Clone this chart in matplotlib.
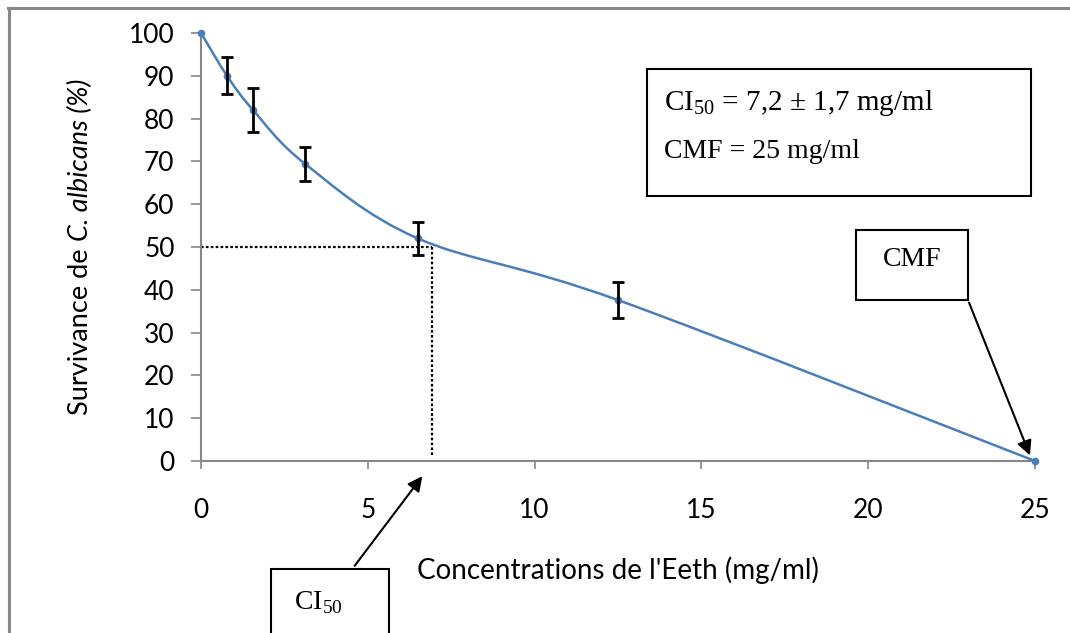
import numpy as np
import matplotlib
matplotlib.use("Agg")
import matplotlib.pyplot as plt
from matplotlib.path import Path
from matplotlib.patches import PathPatch, Rectangle, FancyArrowPatch
from matplotlib.lines import Line2D

# donnees
conc = [0, 0.78, 1.56, 3.125, 6.5, 12.5, 25]
surv = [100, 90, 82, 69.4, 52.0, 37.6, 0]
err = [0, 4.3, 5.2, 4.0, 3.8, 4.25, 0]
ci50_x = 6.93
ci50_y = 50

plt.rcParams['font.family'] = ['Lato', 'DejaVu Sans']
plt.rcParams['mathtext.fontset'] = 'custom'
plt.rcParams['mathtext.rm'] = 'Liberation Serif'

fig = plt.figure(figsize=(10.7, 6.33), dpi=100)
ax = fig.add_axes([201 / 1070, 1 - 461 / 633, 834 / 1070, 428 / 633])

# courbe lissee (bezier type Excel, tension 1/6)
x = np.array(conc, float)
y = np.array(surv, float)
verts = [(x[0], y[0])]
codes = [Path.MOVETO]
n = len(x)
for i in range(n - 1):
    x_prev, y_prev = (x[i - 1], y[i - 1]) if i > 0 else (x[i], y[i])
    x_next2, y_next2 = (x[i + 2], y[i + 2]) if i + 2 < n else (x[i + 1], y[i + 1])
    c1 = (x[i] + (x[i + 1] - x_prev) / 6, y[i] + (y[i + 1] - y_prev) / 6)
    c2 = (x[i + 1] - (x_next2 - x[i]) / 6, y[i + 1] - (y_next2 - y[i]) / 6)
    verts += [c1, c2, (x[i + 1], y[i + 1])]
    codes += [Path.CURVE4] * 3
ax.add_patch(PathPatch(Path(verts, codes), facecolor='none', edgecolor='#4a7ebb',
                       lw=1.8, clip_on=False, zorder=3))
ax.plot(conc, surv, 'o', color='#4a7ebb', ms=4.5, clip_on=False, zorder=4)

# barres d'erreur
e_x = [c for c, e in zip(conc, err) if e > 0]
e_y = [s for s, e in zip(surv, err) if e > 0]
e_e = [e for e in err if e > 0]
ax.errorbar(e_x, e_y, yerr=e_e, fmt='none', ecolor='black', elinewidth=2.0,
            capsize=4.5, capthick=2.0, zorder=5)

# lignes pointillees CI50
ax.plot([0, ci50_x], [ci50_y, ci50_y], ls=(0, (1.2, 1.0)), color='black', lw=1.6, zorder=2)
ax.plot([ci50_x, ci50_x], [ci50_y, 1.5], ls=(0, (1.2, 1.0)), color='black', lw=1.6, zorder=2)

ax.set_xlim(0, 25)
ax.set_ylim(0, 100)
ax.set_xticks([0, 5, 10, 15, 20, 25])
ax.set_yticks(range(0, 101, 10))
for s in ['top', 'right']:
    ax.spines[s].set_visible(False)
for s in ['left', 'bottom']:
    ax.spines[s].set_color('#868686')
    ax.spines[s].set_linewidth(1.5)
ax.tick_params(axis='x', direction='out', length=6, width=1.2, color='#868686',
               labelsize=19, pad=21)
ax.tick_params(axis='y', direction='out', length=7, width=1.2, color='#868686',
               labelsize=19, pad=12)

ax.set_xlabel("Concentrations de l'Eeth (mg/ml)", fontsize=20)
ax.xaxis.set_label_coords(0.5, -95 / 428)

# titre axe y : partie droite + partie italique
lab_x = 80 / 1070
lab_fs = 19.5
t1 = fig.text(lab_x, 0, "Survivance de ", rotation=90, fontsize=lab_fs,
              ha='left', va='center', rotation_mode='anchor')
t2 = fig.text(lab_x, 0, "C. albicans (%)", rotation=90, fontsize=lab_fs, style='italic',
              ha='left', va='center', rotation_mode='anchor')
r = fig.canvas.get_renderer()
h1 = t1.get_window_extent(r).height
h2 = t2.get_window_extent(r).height
y0 = (633 - 247) - (h1 + h2) / 2
t1.set_position((lab_x, y0 / 633))
t2.set_position((lab_x, (y0 + h1) / 633))

# cadres de texte
serif = ['Liberation Serif', 'DejaVu Serif']
fig.patches.append(Rectangle((647 / 1070, 1 - 196 / 633), (1031 - 647) / 1070, 127 / 633,
                             transform=fig.transFigure, fill=False, ec='black', lw=1.5))
fig.text(664 / 1070, 1 - 103 / 633, "CI$_{50}$ = 7,2 ± 1,7 mg/ml", family=serif,
         fontsize=21, va='center')
fig.text(664 / 1070, 1 - 152 / 633, "CMF = 25 mg/ml", family=serif,
         fontsize=20, va='center')

fig.patches.append(Rectangle((856 / 1070, 1 - 300 / 633), 112 / 1070, 70 / 633,
                             transform=fig.transFigure, fill=False, ec='black', lw=1.5))
fig.text(912 / 1070, 1 - 260 / 633, "CMF", family=serif, fontsize=20, ha='center', va='center')

fig.patches.append(Rectangle((271 / 1070, 1 - 640 / 633), 118 / 1070, 71 / 633,
                             transform=fig.transFigure, fill=False, ec='black', lw=1.5))
fig.text(318 / 1070, 1 - 603 / 633, "CI$_{50}$", family=serif, fontsize=20, ha='center',
         va='center')

# fleches
fig.add_artist(FancyArrowPatch(
    (968 / 1070, 1 - 300 / 633), (1031 / 1070, 1 - 458 / 633), transform=fig.transFigure,
    arrowstyle='-|>', mutation_scale=22, color='black', lw=1.5))
fig.add_artist(FancyArrowPatch(
    (353 / 1070, 1 - 568 / 633), (424 / 1070, 1 - 474 / 633), transform=fig.transFigure,
    arrowstyle='-|>', mutation_scale=22, color='black', lw=1.5))

# bordure exterieure
fig.add_artist(Line2D([9 / 1070, 9 / 1070], [0, 1 - 7.5 / 633], transform=fig.transFigure,
                      color='#888888', lw=2.2))
fig.add_artist(Line2D([8 / 1070, 1], [1 - 7.5 / 633, 1 - 7.5 / 633], transform=fig.transFigure,
                      color='#888888', lw=2.2))

fig.savefig('out.png', dpi=100)
